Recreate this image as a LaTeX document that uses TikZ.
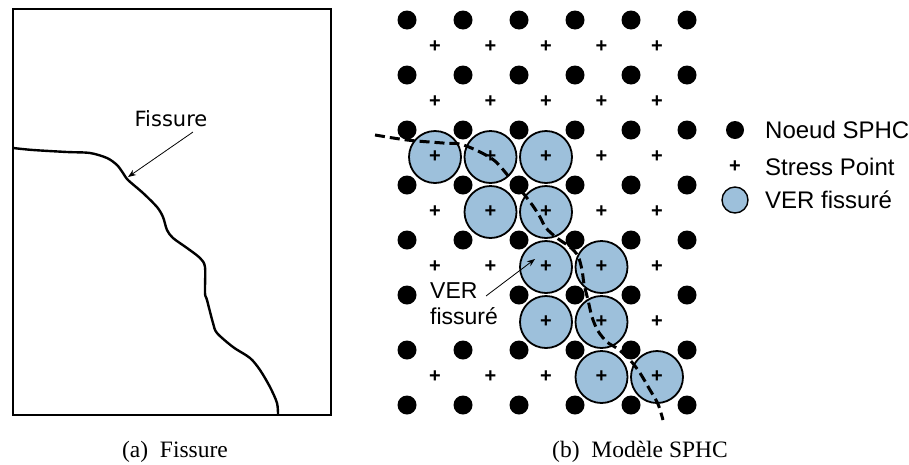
\documentclass[tikz,border=0pt]{standalone}
\usepackage{fontspec}
\setmainfont{Liberation Serif}
\setsansfont{Liberation Sans}
\newfontfamily\verafont{DejaVu Sans}
\usetikzlibrary{arrows.meta}
\definecolor{verblue}{RGB}{157,192,219}

\begin{document}
\begin{tikzpicture}[x=1pt,y=-1pt,
    noeud/.style={circle,fill=black,inner sep=0pt,minimum size=19pt},
    ver/.style={circle,draw=black,line width=1.8pt,fill=verblue,inner sep=0pt,minimum size=52pt},
    spt/.style={font=\sffamily\bfseries\fontsize{20}{20}\selectfont,inner sep=0pt},
    lbl/.style={font=\sffamily\fontsize{24}{26}\selectfont,inner sep=0pt},
    ptr/.style={-{Stealth[length=8pt,width=6pt]},line width=0.8pt},
    capt/.style={font=\fontsize{23.5}{26}\selectfont,inner sep=0pt}]
    \useasboundingbox (0,0) rectangle (909,464);
    \draw[line width=2pt] (13,9) rectangle (331,415);
    \draw[line width=2.4pt,line join=round] plot[smooth,tension=0.5] coordinates {
        (13,148) (33,150) (67,152) (90,153) (107,158) (117,165) (123,173) (128,180)
        (143,193) (157,207) (163,217) (167,230) (173,238) (187,248) (200,258) (205,267)
        (205,293) (207,300) (213,323) (217,333) (233,347) (250,358) (260,370) (270,387)
        (277,403) (278,415)};
    \node[font=\verafont\fontsize{21}{21}\selectfont,inner sep=0pt] (fislbl) at (171,119) {Fissure};
    \coordinate (fisfrom) at (193,132);
    \coordinate (fisto) at (128,177);
    \draw[ptr] (fisfrom) -- (fisto);
    \foreach \j in {0,...,4,6,7}
        \foreach \i in {0,...,5}
            \node[noeud] (n-\i-\j) at (407+56*\i,20+55*\j) {};
    \foreach \i in {0,2,3,4,5}
        \node[noeud] (n-\i-5) at (407+56*\i,295) {};
    \foreach \i/\j in {0/2,1/2,2/2,1/3,2/3,2/4,3/4,2/5,3/5,3/6,4/6}
        \node[ver] (v-\i-\j) at (435+55.5*\i,47+55*\j) {};
    \foreach \j in {0,...,4,6}
        \foreach \i in {0,...,4}
            \node[spt] (s-\i-\j) at (435+55.5*\i,47+55*\j) {+};
    \foreach \i in {2,3,4}
        \node[spt] (s-\i-5) at (435+55.5*\i,322) {+};
    \draw[line width=3pt,dash pattern=on 10pt off 5pt] plot[smooth,tension=0.5] coordinates {
        (375,135) (407,140) (443,143) (460,144) (478,151) (495,161) (510,178) (523,193)
        (533,206) (540,217) (546,228) (557,238) (570,247) (578,256) (582,270) (584,284)
        (588,300) (592,317) (598,331) (607,342) (618,349) (630,360) (640,373) (650,390)
        (658,404) (663,420)};
    \node[lbl,align=left,anchor=north west,font=\sffamily\fontsize{23}{26}\selectfont] (verlbl) at (430,282) {VER\\fissuré};
    \coordinate (verfrom) at (486,296);
    \coordinate (verto) at (535,259);
    \draw[ptr] (verfrom) -- (verto);
    \node[noeud,minimum size=18pt] (lgnoeud) at (735,130) {};
    \node[lbl,anchor=west] (lgnoeudt) at (765,130) {Noeud SPHC};
    \node[spt] (lgspt) at (735,167) {+};
    \node[lbl,anchor=west] (lgsptt) at (765,167) {Stress Point};
    \node[ver,minimum size=26pt,line width=1.4pt] (lgver) at (735,200) {};
    \node[lbl,anchor=west] (lgvert) at (765,200) {VER fissuré};
    \node[capt] (capa) at (175,452) {(a)\enspace Fissure};
    \node[capt] (capb) at (640,452) {(b)\enspace Modèle SPHC};
\end{tikzpicture}
\end{document}
